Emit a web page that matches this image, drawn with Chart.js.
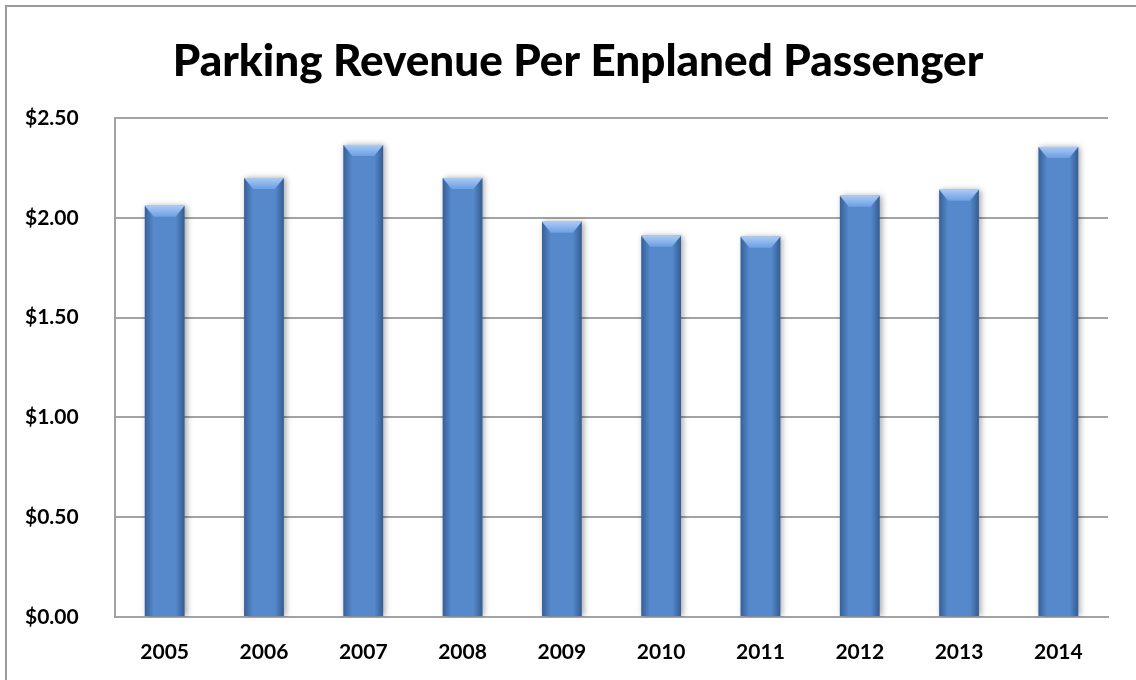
<!DOCTYPE html>
<html>
<head>
<meta charset="utf-8">
<script src="https://cdn.jsdelivr.net/npm/chart.js@4.4.1/dist/chart.umd.min.js"></script>
<style>
  html, body { margin: 0; padding: 0; background: #ffffff; }
  #wrap { position: relative; width: 1136px; height: 680px; }
</style>
</head>
<body>
<div id="wrap"><canvas id="chart" width="1136" height="680"></canvas></div>
<script>
// Fiscal years and parking revenue per enplaned passenger (USD)
const years = ['2005', '2006', '2007', '2008', '2009', '2010', '2011', '2012', '2013', '2014'];
const revenuePerPassenger = [2.06, 2.20, 2.365, 2.20, 1.98, 1.91, 1.905, 2.11, 2.14, 2.355];
const yTicks = [0, 0.5, 1.0, 1.5, 2.0, 2.5];

const GRID = '#a3a3a3';

// White page with a thin grey frame along the top and left edges
const framePlugin = {
  id: 'frame',
  beforeDraw(chart) {
    const ctx = chart.ctx;
    ctx.save();
    ctx.fillStyle = '#ffffff';
    ctx.fillRect(0, 0, chart.width, chart.height);
    ctx.strokeStyle = '#9a9a9a';
    ctx.lineWidth = 2;
    ctx.beginPath();
    ctx.moveTo(6, chart.height);
    ctx.lineTo(6, 6);
    ctx.lineTo(chart.width, 6);
    ctx.stroke();
    ctx.restore();
  }
};

// Soft drop shadow under the columns, then a bevelled cap and edge shading
const bevelPlugin = {
  id: 'bevel',
  beforeDatasetDraw(chart) {
    const ctx = chart.ctx;
    ctx.save();
    ctx.shadowColor = 'rgba(0,0,0,0.35)';
    ctx.shadowBlur = 6;
    ctx.shadowOffsetX = 2;
    ctx.shadowOffsetY = 0;
  },
  afterDatasetDraw(chart, args) {
    const ctx = chart.ctx;
    ctx.restore();
    const meta = chart.getDatasetMeta(args.index);
    meta.data.forEach(bar => {
      const w = bar.width;
      const left = bar.x - w / 2;
      const right = bar.x + w / 2;
      const top = bar.y;
      const bottom = bar.base;
      const edge = 9;
      const cap = 11;
      ctx.save();
      // darker left and right edges
      let g = ctx.createLinearGradient(left, 0, right, 0);
      g.addColorStop(0, 'rgba(25,55,100,0.5)');
      g.addColorStop(0.22, 'rgba(25,55,100,0.0)');
      g.addColorStop(0.78, 'rgba(25,55,100,0.0)');
      g.addColorStop(1, 'rgba(25,55,100,0.55)');
      ctx.fillStyle = g;
      ctx.fillRect(left, top, w, bottom - top);
      // bevelled top cap
      ctx.beginPath();
      ctx.moveTo(left, top);
      ctx.lineTo(right, top);
      ctx.lineTo(right - edge, top + cap);
      ctx.lineTo(left + edge, top + cap);
      ctx.closePath();
      g = ctx.createLinearGradient(0, top, 0, top + cap);
      g.addColorStop(0, '#a9cbf5');
      g.addColorStop(1, '#6d9fe2');
      ctx.fillStyle = g;
      ctx.fill();
      ctx.restore();
    });
  }
};

new Chart(document.getElementById('chart'), {
  type: 'bar',
  data: {
    labels: years,
    datasets: [{
      data: revenuePerPassenger,
      backgroundColor: '#5589cb',
      borderWidth: 0,
      barPercentage: 0.4,
      categoryPercentage: 1.0
    }]
  },
  plugins: [framePlugin, bevelPlugin],
  options: {
    responsive: false,
    animation: false,
    events: [],
    layout: { padding: { top: 12, right: 28, bottom: 0, left: 48 } },
    plugins: {
      legend: { display: false },
      tooltip: { enabled: false },
      title: {
        display: true,
        text: 'Parking Revenue Per Enplaned Passenger',
        color: '#000000',
        font: { family: 'Lato', weight: 900, size: 44, lineHeight: 1 },
        padding: { top: 28, bottom: 34 }
      }
    },
    scales: {
      x: {
        grid: { display: false, drawTicks: false },
        border: { display: true, color: GRID, width: 2 },
        ticks: {
          color: '#000000',
          font: { family: 'Lato', weight: 'bold', size: 21 },
          padding: 23,
          maxRotation: 0
        },
        afterFit(scale) { scale.height = 63; }
      },
      y: {
        min: 0,
        max: 2.5,
        afterBuildTicks(scale) { scale.ticks = yTicks.map(v => ({ value: v })); },
        grid: { color: GRID, lineWidth: 2, drawTicks: false },
        border: { display: true, color: GRID, width: 2 },
        ticks: {
          color: '#000000',
          font: { family: 'Lato', weight: 'bold', size: 21 },
          mirror: true,
          padding: -90,
          callback: v => '$' + Number(v).toFixed(2)
        },
        afterFit(scale) { scale.width = 67; }
      }
    }
  }
});
</script>
</body>
</html>
